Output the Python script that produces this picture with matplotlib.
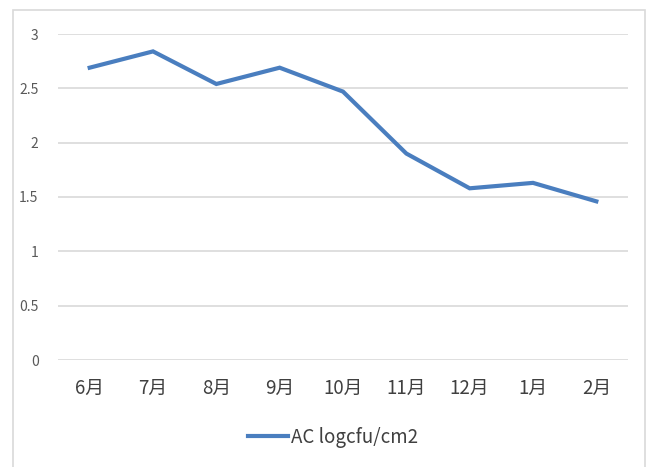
import matplotlib
matplotlib.use("Agg")
import matplotlib.pyplot as plt
from matplotlib.patches import Rectangle

plt.rcParams['font.family'] = ['Noto Sans CJK SC', 'DejaVu Sans']

months = ["6月", "7月", "8月", "9月", "10月", "11月", "12月", "1月", "2月"]
ac_log = [2.69, 2.84, 2.54, 2.69, 2.47, 1.90, 1.58, 1.63, 1.46]
yticks = [0, 0.5, 1, 1.5, 2, 2.5, 3]
ytick_labels = ["0", "0.5", "1", "1.5", "2", "2.5", "3"]

W, H = 650, 467
fig = plt.figure(figsize=(W / 100, H / 100), dpi=100)
ax = fig.add_axes([58 / W, 1 - 360 / H, 570 / W, 326 / H])

xs = list(range(len(months)))
ax.plot(xs, ac_log, color="#4a7ebf", lw=3.0, solid_joinstyle="miter",
        label="AC logcfu/cm2")

ax.set_xlim(-0.5, len(months) - 0.5)
ax.set_ylim(0, 3)
ax.set_yticks(yticks)
ax.set_yticklabels(ytick_labels, fontsize=10, color="#595959")
ax.set_xticks(xs)
ax.set_xticklabels(months, fontsize=13.5, color="#404040")
ax.tick_params(axis="both", length=0)
ax.tick_params(axis="y", pad=14)
ax.tick_params(axis="x", pad=13)
ax.grid(axis="y", color="#d9d9d9", lw=1.2)
ax.set_axisbelow(True)
for s in ax.spines.values():
    s.set_visible(False)

leg = fig.legend(loc="center", bbox_to_anchor=(333 / W, 1 - 437 / H), frameon=False,
                 fontsize=13.5, handlelength=2.1, handletextpad=0.15)
for t in leg.get_texts():
    t.set_color("#404040")

# chart frame, bottom edge runs off the canvas
fig.patches.append(Rectangle((13 / W, -0.05), 632 / W, 1.05 - 10 / H,
                             transform=fig.transFigure, fill=False,
                             edgecolor="#d9d9d9", lw=1.2))

fig.savefig("out.png", dpi=100)
